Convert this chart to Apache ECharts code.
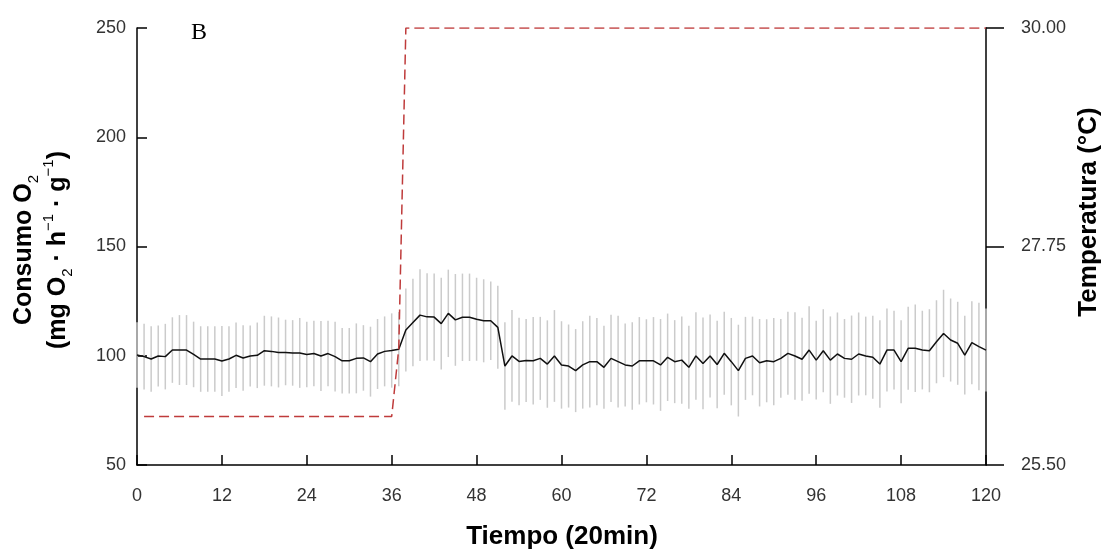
<!DOCTYPE html>
<html>
<head>
<meta charset="utf-8">
<script src="https://cdn.jsdelivr.net/npm/echarts@6/dist/echarts.min.js"></script>
<style>
html, body { margin: 0; padding: 0; background: #fff; }
#chart { width: 1108px; height: 554px; }
</style>
</head>
<body>
<div id="chart"></div>
<script>
// consumo de O2, medias cada 20 min (0..120)
var o2Mean = [
	100.3, 99.6, 98.5, 99.9, 99.6, 102.6, 102.6, 102.6, 100.6, 98.5,
	98.5, 98.5, 97.6, 98.5, 100.2, 99.0, 99.9, 100.2, 102.3, 102.0,
	101.5, 101.5, 101.3, 101.3, 100.6, 101.0, 99.9, 101.0, 99.6, 97.7,
	97.7, 98.8, 99.0, 97.3, 100.8, 102.0, 102.4, 103.0, 111.8, 115.2,
	118.6, 117.8, 117.7, 114.7, 119.4, 116.4, 117.6, 117.6, 116.7, 116.0,
	116.0, 113.0, 95.3, 99.9, 97.4, 97.8, 97.7, 98.8, 96.2, 99.9,
	95.8, 95.3, 93.2, 95.8, 97.3, 97.3, 94.7, 98.8, 97.3, 95.8,
	95.3, 97.7, 97.7, 97.7, 95.8, 99.3, 97.3, 98.0, 94.7, 99.9,
	96.5, 99.9, 96.0, 101.1, 97.3, 93.2, 98.8, 99.9, 96.8, 97.7,
	97.3, 98.8, 101.1, 99.9, 98.4, 102.6, 98.0, 102.3, 98.0, 100.8,
	98.8, 98.4, 100.8, 99.9, 99.3, 96.2, 102.6, 102.6, 97.3, 103.4,
	103.4, 102.6, 102.3, 106.4, 110.2, 107.2, 105.7, 100.3, 106.0, 104.2,
	102.6
];
// barras de error (+/-)
var o2Err = [
	15, 15, 15, 14, 15, 15, 16, 16, 15, 15,
	15, 15, 16, 15, 15, 15, 14, 15, 16, 16,
	16, 15, 15, 16, 15, 15, 16, 15, 16, 15,
	15, 16, 15, 16, 16, 16, 17, 17, 19, 20,
	21, 20, 20, 21, 20, 21, 20, 20, 19, 19,
	18, 19, 20, 21, 20, 19, 20, 19, 20, 21,
	20, 19, 19, 20, 21, 20, 19, 20, 21, 19,
	20, 20, 19, 20, 21, 20, 19, 20, 19, 20,
	21, 19, 20, 19, 20, 21, 19, 18, 20, 19,
	20, 18, 19, 20, 19, 20, 18, 19, 20, 19,
	18, 20, 19, 18, 19, 20, 19, 18, 19, 19,
	20, 18, 19, 19, 20, 19, 19, 18, 19, 20,
	19
];
// temperatura
var tempTime = [1, 36, 37, 38, 120];
var tempValue = [26.0, 26.0, 26.7, 30.0, 30.0];

var F = "'Liberation Sans', Arial, sans-serif";

var meanData = o2Mean.map(function(v, i) { return [i, v]; });
var errData = o2Mean.map(function(v, i) { return [i, v, o2Err[i]]; });
var tempData = tempTime.map(function(t, i) { return [t, tempValue[i]]; });

var myChart = echarts.init(document.getElementById('chart'));

var option = {
	animation: false,
	backgroundColor: '#fff',
	grid: { left: 137, right: 122, top: 28, bottom: 89 },
	xAxis: {
		type: 'value',
		min: 0,
		max: 120,
		interval: 12,
		axisLine: { lineStyle: { color: '#000', width: 1.5 } },
		axisTick: { inside: true, length: 10, lineStyle: { color: '#000', width: 1.5 } },
		axisLabel: { margin: 22, fontSize: 18, color: '#333', fontFamily: F },
		splitLine: { show: false }
	},
	yAxis: [{
			type: 'value',
			position: 'left',
			min: 50,
			max: 250,
			interval: 50,
			axisLine: { show: true, lineStyle: { color: '#000', width: 1.5 } },
			axisTick: { show: true, inside: true, length: 10, lineStyle: { color: '#000', width: 1.5 } },
			axisLabel: { margin: 11, fontSize: 18, color: '#333', fontFamily: F },
			splitLine: { show: false }
		},
		{
			type: 'value',
			position: 'right',
			min: 25.5,
			max: 30,
			interval: 2.25,
			axisLine: { show: true, lineStyle: { color: '#000', width: 1.5 } },
			axisTick: { show: true, inside: false, length: 18, lineStyle: { color: '#000', width: 1.5 } },
			axisLabel: {
				margin: 35, fontSize: 18, color: '#333', fontFamily: F,
				formatter: function(v) { return v.toFixed(2); }
			},
			splitLine: { show: false }
		}
	],
	series: [{
			name: 'error',
			type: 'custom',
			z: 1,
			data: errData,
			encode: { x: 0, y: 1 },
			renderItem: function(params, api) {
				var x = api.value(0), m = api.value(1), e = api.value(2);
				var p1 = api.coord([x, m + e]);
				var p2 = api.coord([x, m - e]);
				return {
					type: 'line',
					shape: { x1: p1[0], y1: p1[1], x2: p2[0], y2: p2[1] },
					style: { stroke: '#cbcbcb', lineWidth: 1.5 }
				};
			}
		},
		{
			name: 'O2',
			type: 'line',
			z: 3,
			data: meanData,
			showSymbol: false,
			symbol: 'none',
			lineStyle: { color: '#111', width: 1.5 }
		},
		{
			name: 'temp',
			type: 'line',
			yAxisIndex: 1,
			z: 4,
			data: tempData,
			showSymbol: false,
			symbol: 'none',
			lineStyle: { color: '#bf3b3b', width: 1.5, type: [10, 5] }
		}
	],
	graphic: [{
			type: 'text',
			x: 41,
			y: 250,
			rotation: Math.PI / 2,
			style: {
				text: '{t|Consumo O}{sb|2}\n{t|(mg O}{sb|2}{t| · h}{sp|−1}{t| · g}{sp|−1}{t|)}',
				align: 'center',
				verticalAlign: 'middle',
				fill: '#000',
				rich: {
					t: { fontSize: 25, fontWeight: 'bold', fontFamily: F, lineHeight: 34, fill: '#000' },
					sb: { fontSize: 15, fontFamily: F, lineHeight: 4, verticalAlign: 'bottom', fill: '#000' },
					sp: { fontSize: 15, fontFamily: F, lineHeight: 4, verticalAlign: 'top', fill: '#000' }
				}
			}
		},
		{
			type: 'text',
			x: 1089,
			y: 212,
			rotation: Math.PI / 2,
			style: {
				text: 'Temperatura (°C)',
				align: 'center',
				verticalAlign: 'middle',
				fontSize: 26,
				fontWeight: 'bold',
				fontFamily: F,
				fill: '#000'
			}
		},
		{
			type: 'text',
			x: 562,
			y: 537,
			style: {
				text: 'Tiempo (20min)',
				align: 'center',
				verticalAlign: 'middle',
				fontSize: 26,
				fontWeight: 'bold',
				fontFamily: F,
				fill: '#000'
			}
		},
		{
			type: 'text',
			x: 191,
			y: 33,
			style: {
				text: 'B',
				align: 'left',
				verticalAlign: 'middle',
				fontSize: 24,
				fontFamily: "'Liberation Serif', 'Times New Roman', serif",
				fill: '#000'
			}
		}
	]
};

myChart.setOption(option);
</script>
</body>
</html>
